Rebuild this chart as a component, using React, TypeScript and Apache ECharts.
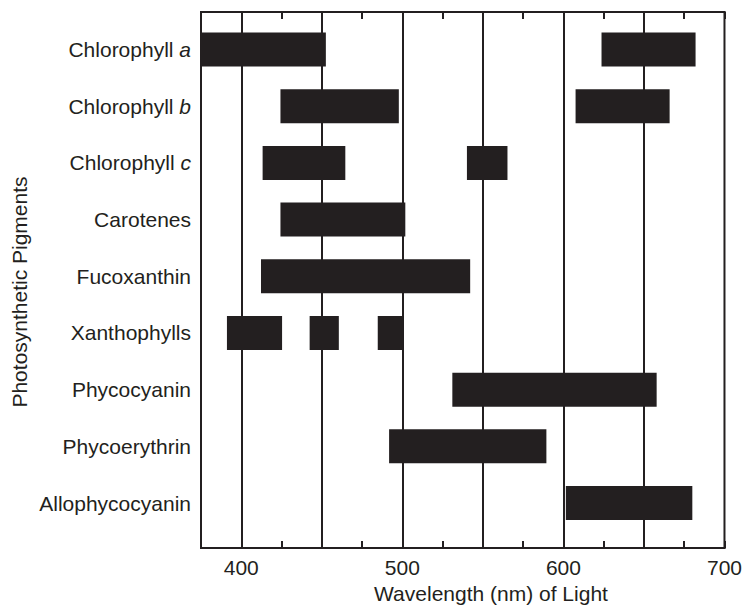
import React, { useEffect, useRef } from "react";
import * as echarts from "echarts";

const pigments = [
  "Chlorophyll a",
  "Chlorophyll b",
  "Chlorophyll c",
  "Carotenes",
  "Fucoxanthin",
  "Xanthophylls",
  "Phycocyanin",
  "Phycoerythrin",
  "Allophycocyanin",
];

// Absorption bands: pigment index, start and end wavelength (nm)
const bandPigment = [0, 0, 1, 1, 2, 2, 3, 4, 5, 5, 5, 6, 7, 8];
const bandFrom = [375, 622, 424, 606, 413, 539, 424, 412, 391, 442, 484, 530, 491, 600];
const bandTo = [452, 680, 497, 664, 464, 564, 501, 541, 425, 460, 500, 656, 588, 678];

const gridWavelengths = [400, 450, 500, 550, 600, 650];
const xMin = 375;
const xMax = 700;
const tickStep = 25;
const labelStep = 100;

const INK = "#231f20";
const FONT = "'Liberation Sans', Arial, Helvetica, sans-serif";

export default function App() {
  const ref = useRef<HTMLDivElement>(null);

  useEffect(() => {
    if (!ref.current) return;
    const chart = echarts.init(ref.current, undefined, { renderer: "svg" });

    const bandData = bandPigment.map((p, i) => [p, bandFrom[i], bandTo[i]]);

    const frame = { left: 201, right: 17, top: 12, bottom: 58 };
    const inner = { left: 201, right: 17, top: 21.2, bottom: 74.6 };

    const option: any = {
      animation: false,
      backgroundColor: "#ffffff",
      grid: [
        {
          ...frame,
          show: true,
          borderColor: INK,
          borderWidth: 2,
          backgroundColor: "transparent",
        },
        { ...inner, show: false },
      ],
      xAxis: [
        {
          type: "value",
          gridIndex: 0,
          position: "bottom",
          min: xMin,
          max: xMax,
          interval: tickStep,
          axisLine: { show: true, lineStyle: { color: INK, width: 2 } },
          axisTick: { show: true, inside: true, length: 7, lineStyle: { color: INK, width: 2 } },
          splitLine: { show: false },
          axisLabel: {
            show: true,
            margin: 9,
            color: INK,
            fontSize: 21,
            fontFamily: FONT,
            showMinLabel: true,
            showMaxLabel: true,
            formatter: (v: number) => (v % labelStep === 0 ? String(v) : ""),
          },
        },
        {
          type: "value",
          gridIndex: 0,
          position: "top",
          min: xMin,
          max: xMax,
          interval: tickStep,
          axisLine: { show: true, lineStyle: { color: INK, width: 2 } },
          axisTick: { show: true, inside: true, length: 7, lineStyle: { color: INK, width: 2 } },
          splitLine: { show: false },
          axisLabel: { show: false },
        },
        {
          type: "value",
          gridIndex: 1,
          min: xMin,
          max: xMax,
          show: false,
        },
      ],
      yAxis: [
        {
          type: "value",
          gridIndex: 0,
          min: 0,
          max: 1,
          show: false,
        },
        {
          type: "category",
          gridIndex: 1,
          data: pigments,
          inverse: true,
          axisLine: { show: false },
          axisTick: { show: false },
          splitLine: { show: false },
          axisLabel: {
            margin: 10,
            color: INK,
            fontSize: 21,
            fontFamily: FONT,
            formatter: (v: string) => {
              const m = v.match(/^(Chlorophyll) ([abc])$/);
              return m ? `${m[1]} {i|${m[2]}}` : v;
            },
            rich: {
              i: { fontStyle: "italic", fontSize: 21, fontFamily: FONT, color: INK },
            },
          },
        },
      ],
      series: [
        {
          type: "line",
          xAxisIndex: 0,
          yAxisIndex: 0,
          data: [],
          silent: true,
          markLine: {
            silent: true,
            symbol: "none",
            label: { show: false },
            lineStyle: { color: INK, width: 2, type: "solid" },
            data: gridWavelengths.map((w) => ({ xAxis: w })),
          },
        },
        {
          type: "custom",
          xAxisIndex: 2,
          yAxisIndex: 1,
          data: bandData,
          z: 5,
          clip: true,
          encode: { x: [1, 2], y: 0 },
          renderItem: (params: any, api: any) => {
            const cat = api.value(0);
            const start = api.coord([api.value(1), cat]);
            const end = api.coord([api.value(2), cat]);
            const h = api.size([0, 1])[1] * 0.6;
            const rect = echarts.graphic.clipRectByRect(
              { x: start[0], y: start[1] - h / 2, width: end[0] - start[0], height: h },
              {
                x: params.coordSys.x,
                y: params.coordSys.y,
                width: params.coordSys.width,
                height: params.coordSys.height,
              }
            );
            return rect && { type: "rect", shape: rect, style: { fill: INK } };
          },
        },
      ],
      graphic: [
        {
          type: "text",
          x: 19,
          y: 292,
          rotation: Math.PI / 2,
          style: {
            text: "Photosynthetic Pigments",
            fill: INK,
            fontSize: 21,
            fontFamily: FONT,
            align: "center",
            verticalAlign: "middle",
          },
        },
        {
          type: "text",
          x: 491,
          y: 593,
          style: {
            text: "Wavelength (nm) of Light",
            fill: INK,
            fontSize: 21,
            fontFamily: FONT,
            align: "center",
            verticalAlign: "middle",
          },
        },
      ],
    };

    chart.setOption(option);
    return () => chart.dispose();
  }, []);

  return (
    <div
      ref={ref}
      style={{ position: "fixed", left: 0, top: 0, width: 745, height: 606, background: "#fff" }}
    />
  );
}
